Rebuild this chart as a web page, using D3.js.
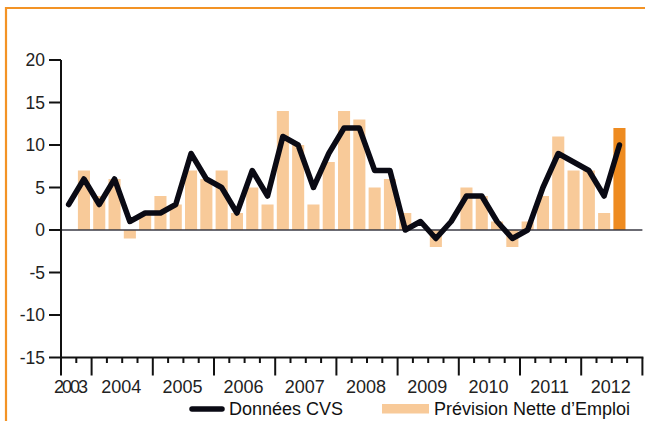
<!DOCTYPE html>
<html>
<head>
<meta charset="utf-8">
<script src="https://cdn.jsdelivr.net/npm/d3@7"></script>
<style>
html,body{margin:0;padding:0;background:#fff;}
svg{display:block;font-family:Arial,"Liberation Sans",Helvetica,sans-serif;}
</style>
</head>
<body>
<svg id="chart" width="645" height="421"></svg>
<script>
// Quarters from 2003 Q3 to 2012 Q4
const years = [2003,2004,2005,2006,2007,2008,2009,2010,2011,2012];
const quarters = [];
years.forEach(yr => [1,2,3,4].forEach(q => { if (!(yr === 2003 && q < 3)) quarters.push(yr + "Q" + q); }));

// Données CVS (line), one value per quarter from 2003Q3 to 2012Q3
const cvsValues = [3,6,3,6,1,2,2,3,9,6,5,2,7,4,11,10,5,9,12,12,7,7,0,1,-1,1,4,4,1,-1,0,5,9,8,7,4,10];
// Prévision Nette d'Emploi (bars)
const pneValues = [null,7,4,6,-1,2,4,3,7,6,7,2,5,3,14,10,3,8,14,13,5,6,2,0,-2,0,5,4,1,-2,1,4,11,7,7,2,12];
const yTicks = [20,15,10,5,0,-5,-10,-15];
const seriesNames = ["Données CVS", "Prévision Nette d\u2019Emploi"];

(function () {
const svg = d3.select("#chart");
const mLeft = 61, mRight = 642.4, mTop = 60, mBottom = 357.5;

const x = d3.scaleBand().domain(quarters).range([mLeft, mRight]).paddingInner(0.21).paddingOuter(0.105);
const y = d3.scaleLinear().domain([-15, 20]).range([mBottom, mTop]);
const step = x.step();

// orange frame
svg.append("path").attr("d", "M6,421 V8 H645").attr("fill", "none").attr("stroke", "#F39325").attr("stroke-width", 2.2);

// bars
const barData = quarters.map((q, i) => ({q, v: pneValues[i], last: i === pneValues.length - 1})).filter(d => d.v != null && d.v !== 0);
svg.append("g").selectAll("rect").data(barData).join("rect")
  .attr("x", d => x(d.q))
  .attr("width", x.bandwidth())
  .attr("y", d => y(Math.max(0, d.v)))
  .attr("height", d => Math.abs(y(d.v) - y(0)))
  .attr("fill", d => d.last ? "#EE8B20" : "#F8CA99");

// zero line
svg.append("line").attr("x1", mLeft).attr("x2", mRight).attr("y1", y(0)).attr("y2", y(0))
  .attr("stroke", "#3a3a44").attr("stroke-width", 1.6);

// y axis
const yAxis = svg.append("g");
yAxis.append("line").attr("x1", mLeft).attr("x2", mLeft).attr("y1", y(20)).attr("y2", mBottom + 18)
  .attr("stroke", "#111").attr("stroke-width", 2);
yAxis.selectAll("line.tick").data(yTicks).join("line").attr("class", "tick")
  .attr("x1", 49).attr("x2", mLeft).attr("y1", d => y(d)).attr("y2", d => y(d))
  .attr("stroke", "#111").attr("stroke-width", 2);
yAxis.selectAll("text").data(yTicks).join("text")
  .attr("x", 45).attr("y", d => y(d)).attr("dy", "0.36em")
  .attr("text-anchor", "end").attr("font-size", 17.5).attr("fill", "#222")
  .text(d => d);

// x axis
const xAxis = svg.append("g");
xAxis.append("line").attr("x1", mLeft).attr("x2", mRight + 1).attr("y1", mBottom).attr("y2", mBottom)
  .attr("stroke", "#111").attr("stroke-width", 2);
const boundaries = quarters.map((q, i) => ({q, i, major: q.endsWith("Q1")}));
xAxis.selectAll("line.qt").data(boundaries.slice(1)).join("line").attr("class", "qt")
  .attr("x1", d => mLeft + d.i * step).attr("x2", d => mLeft + d.i * step)
  .attr("y1", mBottom).attr("y2", d => d.major ? mBottom + 18 : mBottom + 5.5)
  .attr("stroke", "#111").attr("stroke-width", 2);
xAxis.append("line").attr("x1", mRight).attr("x2", mRight).attr("y1", mBottom).attr("y2", mBottom + 18)
  .attr("stroke", "#111").attr("stroke-width", 2);
const yearInfo = years.map(yr => {
  const qs = quarters.filter(q => q.startsWith(yr));
  return {yr, x0: x(qs[0]) - step * 0.105, x1: x(qs[qs.length - 1]) - step * 0.105 + step};
});
xAxis.selectAll("text").data(yearInfo).join("text")
  .attr("x", d => d.yr === 2003 ? d.x1 - 5.5 : (d.x0 + d.x1) / 2 - 1)
  .attr("y", 392.5)
  .attr("text-anchor", d => d.yr === 2003 ? "end" : "middle")
  .attr("font-size", 18).attr("fill", "#222")
  .attr("letter-spacing", d => d.yr === 2003 ? "-2px" : null)
  .text(d => d.yr);

// line
const lineData = cvsValues.map((v, i) => ({q: quarters[i], v}));
svg.append("path").datum(lineData)
  .attr("fill", "none").attr("stroke", "#0a0a14").attr("stroke-width", 5.5)
  .attr("stroke-linejoin", "round").attr("stroke-linecap", "round")
  .attr("d", d3.line().x(d => x(d.q) + x.bandwidth() / 2).y(d => y(d.v)));

// legend
const lg = svg.append("g");
lg.append("line").attr("x1", 192).attr("x2", 222).attr("y1", 409).attr("y2", 409)
  .attr("stroke", "#0a0a14").attr("stroke-width", 5.5).attr("stroke-linecap", "round");
lg.append("text").attr("x", 229).attr("y", 414.5).attr("font-size", 18).attr("fill", "#111").text(seriesNames[0]);
lg.append("rect").attr("x", 382).attr("y", 404).attr("width", 47).attr("height", 9.5).attr("fill", "#F8CA99");
lg.append("text").attr("x", 434).attr("y", 414.5).attr("font-size", 18).attr("fill", "#111").text(seriesNames[1]);
})();
</script>
</body>
</html>
